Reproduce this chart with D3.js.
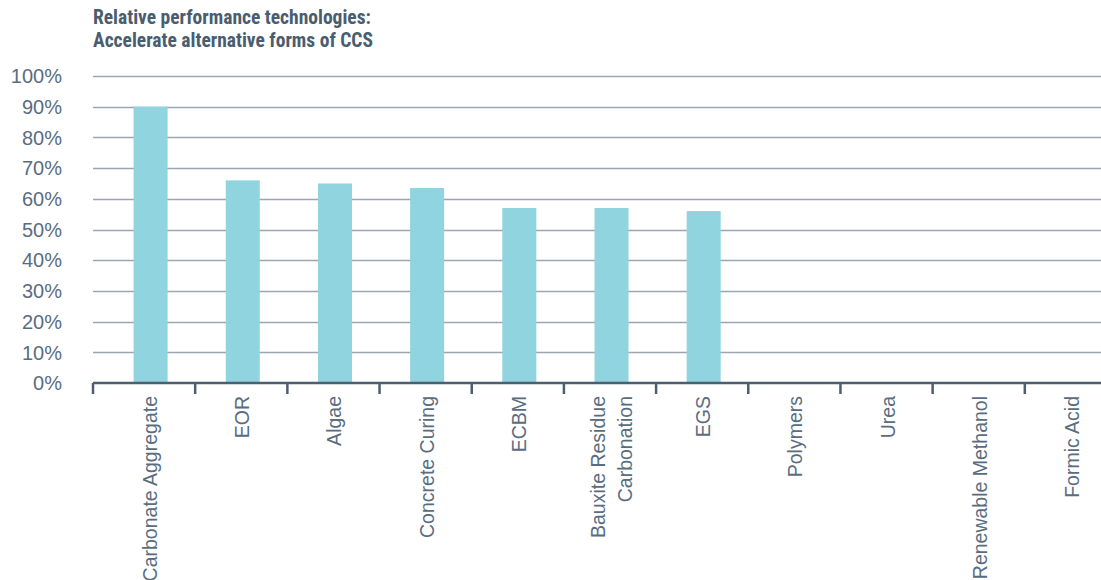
<!DOCTYPE html>
<html>
<head>
<meta charset="utf-8">
<script src="https://cdn.jsdelivr.net/npm/d3@7"></script>
<style>
  html, body { margin: 0; padding: 0; background: #ffffff; overflow: hidden; }
  svg { display: block; }
</style>
</head>
<body>
<svg id="chart" width="1101" height="580"></svg>
<script>
// Technologies, in ranked order
const categories = [
  "Carbonate Aggregate", "EOR", "Algae", "Concrete Curing", "ECBM",
  "Bauxite Residue\nCarbonation", "EGS", "Polymers", "Urea",
  "Renewable Methanol", "Formic Acid"
];
// Relative performance (share of maximum)
const performance = [0.90, 0.66, 0.65, 0.635, 0.57, 0.57, 0.56, 0, 0, 0, 0];
// Y axis ticks
const yTicks = [0, 0.1, 0.2, 0.3, 0.4, 0.5, 0.6, 0.7, 0.8, 0.9, 1.0];
const titleLines = ["Relative performance technologies:", "Accelerate alternative forms of CCS"];

const svg = d3.select("#chart");
const W = 1101;
const axisLeft = 93;
const baseY = 383, topY = 76;

const x = d3.scaleBand().domain(categories).range([103, 1117]).padding(0);
const y = d3.scaleLinear().domain([0, 1]).range([baseY, topY]);

const textColor = "#5a6d80";
const axisColor = "#4b5f71";

// Title
svg.append("g").selectAll("text").data(titleLines).join("text")
  .attr("x", 93)
  .attr("y", (d, i) => 24 + i * 23)
  .attr("font-family", "'Liberation Sans Narrow', 'Roboto Condensed', 'DejaVu Sans Condensed', sans-serif")
  .attr("font-weight", "bold")
  .attr("font-size", 19.5)
  .attr("fill", "#4a5d6f")
  .text(d => d);

// Gridlines
svg.append("g").selectAll("line").data(yTicks.filter(t => t > 0)).join("line")
  .attr("x1", axisLeft).attr("x2", W)
  .attr("y1", d => Math.round(y(d)) + 0.5).attr("y2", d => Math.round(y(d)) + 0.5)
  .attr("stroke", "#9ca6b1").attr("stroke-width", 1.6);

// Y labels
svg.append("g").selectAll("text").data(yTicks).join("text")
  .attr("x", 62)
  .attr("y", d => y(d))
  .attr("dy", "0.36em")
  .attr("text-anchor", "end")
  .attr("font-family", "'Liberation Sans', Arial, sans-serif")
  .attr("font-size", 20)
  .attr("fill", textColor)
  .text(d => d3.format(".0%")(d));

// Bars
const barW = 34;
svg.append("g").selectAll("rect").data(categories.map((c, i) => ({c, v: performance[i]})).filter(d => d.v > 0))
  .join("rect")
  .attr("x", d => x(d.c) + x.bandwidth() / 2 - barW / 2 + 1.5)
  .attr("width", barW)
  .attr("y", d => y(d.v))
  .attr("height", d => y(0) - y(d.v))
  .attr("fill", "#8fd4de");

// X axis line and ticks
const axisG = svg.append("g");
axisG.append("line")
  .attr("x1", axisLeft).attr("x2", W)
  .attr("y1", baseY).attr("y2", baseY)
  .attr("stroke", axisColor).attr("stroke-width", 2.5);
const tickXs = [axisLeft].concat(categories.slice(1).map(c => x(c)));
axisG.selectAll("line.tick").data(tickXs).join("line")
  .attr("class", "tick")
  .attr("x1", d => d).attr("x2", d => d)
  .attr("y1", baseY).attr("y2", baseY + 11)
  .attr("stroke", axisColor).attr("stroke-width", 2.5);

// X labels, rotated
const labels = svg.append("g").selectAll("text").data(categories).join("text")
  .attr("transform", d => `translate(${x(d) + x.bandwidth() / 2 + 1},396) rotate(-90)`)
  .attr("text-anchor", "end")
  .attr("font-family", "'Liberation Sans', Arial, sans-serif")
  .attr("font-size", 19.5)
  .attr("fill", textColor);
labels.each(function(d) {
  const lines = d.split("\n");
  const sel = d3.select(this);
  const lh = 27;
  lines.forEach((ln, i) => {
    sel.append("tspan")
      .attr("x", 0)
      .attr("y", (i - (lines.length - 1) / 2) * lh)
      .attr("dy", "0.36em")
      .text(ln);
  });
});
</script>
</body>
</html>
